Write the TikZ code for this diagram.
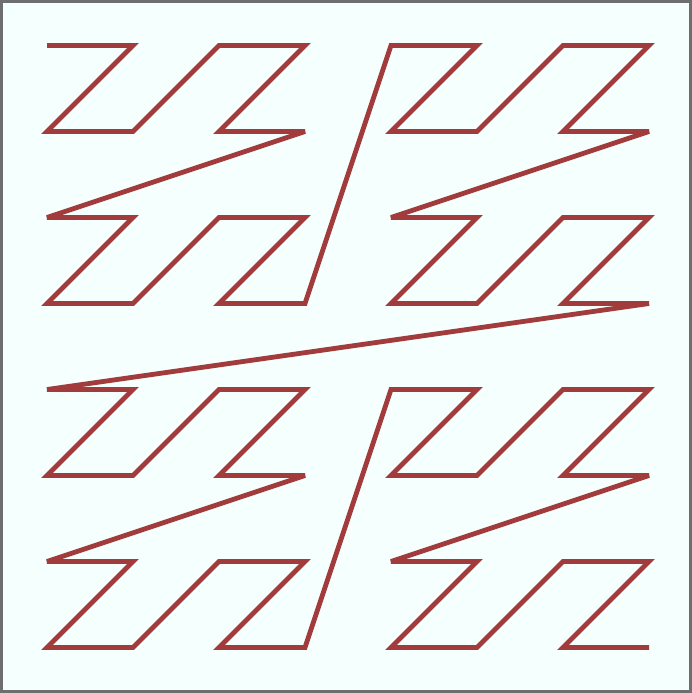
\documentclass[tikz,border=0pt]{standalone}
\definecolor{bgc}{HTML}{F5FFFE}
\definecolor{framec}{HTML}{6E6E6E}
\definecolor{curvec}{HTML}{A23B3B}
\tikzset{
  zcurve/.style={draw=curvec, line width=4.8pt, line join=miter, miter limit=4},
  frameline/.style={draw=framec, line width=2.6pt, fill=bgc}
}
\begin{document}
\begin{tikzpicture}[x=1pt,y=-1pt]
\useasboundingbox (0,0) rectangle (692,693);
\path[frameline] (1.8,1.8) rectangle (690.4,691.2);
\foreach \n in {0,...,63}{
  \pgfmathtruncatemacro{\xi}{mod(\n,2)+2*mod(floor(\n/4),2)+4*mod(floor(\n/16),2)}
  \pgfmathtruncatemacro{\yi}{mod(floor(\n/2),2)+2*mod(floor(\n/8),2)+4*mod(floor(\n/32),2)}
  \coordinate (p\n) at ({47+86*\xi},{45.5+86*\yi});
}
\draw[zcurve] (p0) \foreach \i in {1,...,63}{ -- (p\i) };
\end{tikzpicture}
\end{document}
